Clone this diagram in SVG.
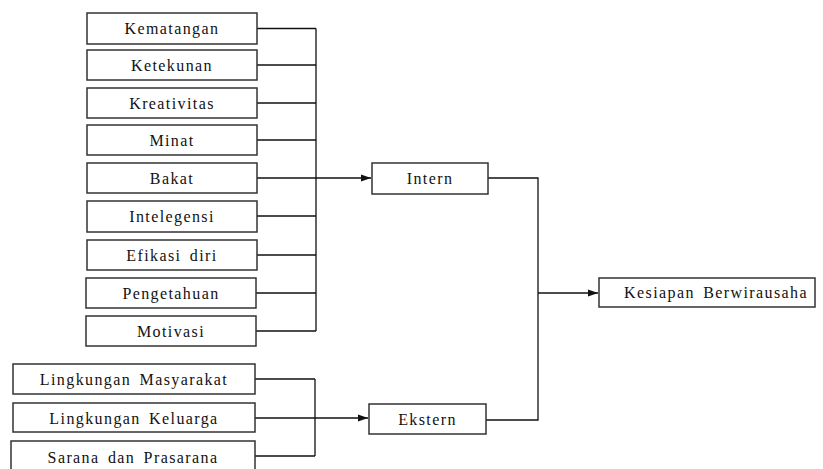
<svg xmlns="http://www.w3.org/2000/svg" width="823" height="469" viewBox="0 0 823 469" font-family="Liberation Serif, DejaVu Serif, serif">
<style>
.box{fill:#fff;stroke:#333;stroke-width:1.5}
.t{font-size:16px;fill:#111;text-anchor:middle;letter-spacing:1.4px;word-spacing:3px}
.c{fill:none;stroke:#111;stroke-width:1.3}
</style>
<defs>
<marker id="ah" viewBox="0 0 10 10" refX="10" refY="5" markerWidth="10" markerHeight="10" markerUnits="userSpaceOnUse" orient="auto">
<path d="M0,1.5 L10,5 L0,8.5 Z" fill="#111"/>
</marker>
</defs>
<rect width="823" height="469" fill="#fff"/>
<g id="connectors">
<path class="c" d="M257,28.5 H316 M257,65 H316 M257,103 H316 M257,140 H316 M257,216 H316 M257,255 H316 M256,293 H316 M256,331 H316 M316,28.5 V331"/>
<path class="c" d="M257,178 H371" marker-end="url(#ah)"/>
<path class="c" d="M255,379 H315 M255,456 H315 M315,379 V456"/>
<path class="c" d="M255,418 H368" marker-end="url(#ah)"/>
<path class="c" d="M488,178 H538 V420 H486"/>
<path class="c" d="M538,293 H598" marker-end="url(#ah)"/>
</g>
<g id="kematangan"><rect class="box" x="87" y="13" width="170" height="31"/><text class="t" x="172" y="34">Kematangan</text></g>
<g id="ketekunan"><rect class="box" x="87" y="50" width="170" height="30"/><text class="t" x="172" y="71">Ketekunan</text></g>
<g id="kreativitas"><rect class="box" x="87" y="88" width="170" height="30"/><text class="t" x="172" y="109">Kreativitas</text></g>
<g id="minat"><rect class="box" x="87" y="125" width="170" height="30"/><text class="t" x="172" y="146">Minat</text></g>
<g id="bakat"><rect class="box" x="87" y="163" width="170" height="30"/><text class="t" x="172" y="184">Bakat</text></g>
<g id="intelegensi"><rect class="box" x="87" y="201" width="170" height="31"/><text class="t" x="172" y="222">Intelegensi</text></g>
<g id="efikasi"><rect class="box" x="87" y="240" width="170" height="30"/><text class="t" x="172" y="261">Efikasi diri</text></g>
<g id="pengetahuan"><rect class="box" x="86" y="278" width="170" height="30"/><text class="t" x="171" y="299">Pengetahuan</text></g>
<g id="motivasi"><rect class="box" x="86" y="316" width="170" height="30"/><text class="t" x="171" y="337">Motivasi</text></g>
<g id="masyarakat"><rect class="box" x="13" y="364" width="242" height="30"/><text class="t" x="134" y="385">Lingkungan Masyarakat</text></g>
<g id="keluarga"><rect class="box" x="13" y="403" width="242" height="29"/><text class="t" x="134" y="424">Lingkungan Keluarga</text></g>
<g id="sarana"><rect class="box" x="11" y="441" width="244" height="32"/><text class="t" x="133" y="463">Sarana dan Prasarana</text></g>
<g id="intern"><rect class="box" x="372" y="163" width="116" height="31"/><text class="t" x="430" y="184">Intern</text></g>
<g id="ekstern"><rect class="box" x="369" y="404" width="117" height="30"/><text class="t" x="427.5" y="425">Ekstern</text></g>
<g id="kesiapan"><rect class="box" x="599" y="278" width="216" height="29"/><text class="t" x="716" y="298">Kesiapan Berwirausaha</text></g>
</svg>
